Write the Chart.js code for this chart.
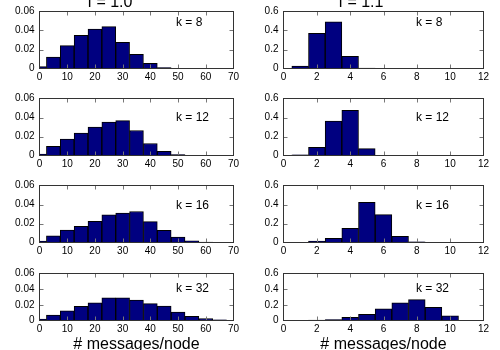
<!DOCTYPE html>
<html><head><meta charset="utf-8">
<script src="https://cdn.jsdelivr.net/npm/chart.js@4/dist/chart.umd.min.js"></script>
<style>
html,body{margin:0;padding:0;background:#fff;}
#wrap{position:relative;width:500px;height:350px;overflow:hidden;background:#fff;}
#wrap canvas{position:absolute;left:0;top:0;}
</style></head><body><div id="wrap"></div>
<script>
// ---- data ----
const binsF10 = [0,5,10,15,20,25,30,35,40,45,50,55,60,65,70];
const binsF11 = [1,2,3,4,5,6,7,8,9,10,11,12];

const f10_k8  = [0.002,0.012,0.024,0.035,0.0415,0.044,0.0275,0.0148,0.0055,0.001,0.0003,0.0002,0.0001,0.0001,0];
const f10_k12 = [0.0014,0.0097,0.0173,0.0237,0.030,0.0352,0.0367,0.0263,0.0126,0.0043,0.001,0.0003,0.0001,0.0001,0];
const f10_k16 = [0.0014,0.0071,0.0131,0.017,0.0223,0.029,0.0309,0.0326,0.022,0.0128,0.0057,0.0018,0.0004,0.0002,0.0001];
const f10_k32 = [0.0017,0.0069,0.0124,0.018,0.0227,0.0288,0.029,0.0262,0.0215,0.0185,0.0107,0.0052,0.0026,0.0008,0.0002];

const f11_k8  = [0.025,0.37,0.49,0.128,0.005,0,0,0,0,0,0,0];
const f11_k12 = [0.007,0.086,0.363,0.475,0.072,0.003,0.0005,0,0,0,0,0];
const f11_k16 = [0.002,0.014,0.043,0.149,0.422,0.294,0.064,0.007,0.001,0,0,0];
const f11_k32 = [0.001,0.004,0.013,0.04,0.08,0.15,0.227,0.266,0.167,0.06,0.003,0];

const xTicksF10 = [0,10,20,30,40,50,60,70];
const xTickLabelsF10 = ['0','10','20','30','40','50','60','70'];
const xTicksF11 = [0,2,4,6,8,10,12];
const xTickLabelsF11 = ['0','2','4','6','8','10','12'];
const yTicksF10 = [0,0.02,0.04,0.06];
const yTickLabelsF10 = ['0','0.02','0.04','0.06'];
const yTicksF11 = [0,0.2,0.4,0.6];
const yTickLabelsF11 = ['0','0.2','0.4','0.6'];

const kLabels = ['k = 8','k = 12','k = 16','k = 32'];
const colTitles = ['f = 1.0','f = 1.1'];
const xAxisTitle = '# messages/node';

// ---- layout (positions/styles) ----
const FONT = "'Liberation Sans', Arial, sans-serif";
const cols = [{L:39.5,R:233.5,kx:176,tx:110},{L:283.5,R:483.5,kx:416,tx:361}];
const rows = [{T:11.5,B:68.5,ky:22.5},{T:98.5,B:155.5,ky:118},{T:185.5,B:242.5,ky:205.5},{T:273.5,B:320.5,ky:289}];
const columns = [
  {bins:binsF10, series:[f10_k8,f10_k12,f10_k16,f10_k32], xmin:0, xmax:70, xt:xTicksF10, xl:xTickLabelsF10, ymax:0.06, yt:yTicksF10, yl:yTickLabelsF10},
  {bins:binsF11, series:[f11_k8,f11_k12,f11_k16,f11_k32], xmin:0, xmax:12, xt:xTicksF11, xl:xTickLabelsF11, ymax:0.6, yt:yTicksF11, yl:yTickLabelsF11}
];

const framePlugin = {
  id:'frame',
  afterDatasetsDraw(chart, args, opts){
    const {ctx, chartArea:a} = chart;
    const xs = chart.scales.x, ys = chart.scales.y;
    ctx.save();
    ctx.lineWidth = 1;
    ctx.strokeStyle = '#777';
    ctx.beginPath();
    xs.ticks.forEach(t=>{
      const px = Math.round(xs.getPixelForValue(t.value)) + 0.5;
      if (px <= a.left + 1 || px >= a.right - 1) return;
      ctx.moveTo(px, a.bottom); ctx.lineTo(px, a.bottom - 4);
      ctx.moveTo(px, a.top); ctx.lineTo(px, a.top + 4);
    });
    ys.ticks.forEach(t=>{
      const py = Math.round(ys.getPixelForValue(t.value)) + 0.5;
      if (py <= a.top + 1 || py >= a.bottom - 1) return;
      ctx.moveTo(a.left, py); ctx.lineTo(a.left + 4, py);
      ctx.moveTo(a.right, py); ctx.lineTo(a.right - 4, py);
    });
    ctx.stroke();
    ctx.strokeStyle = '#333';
    ctx.strokeRect(a.left, a.top, a.right - a.left, a.bottom - a.top);
    // texts
    ctx.fillStyle = '#000';
    ctx.textBaseline = 'middle';
    ctx.textAlign = 'left';
    ctx.font = '12px ' + FONT;
    ctx.fillText(opts.k, opts.kx, opts.ky);
    if (opts.title) {
      ctx.textAlign = 'center';
      ctx.textBaseline = 'alphabetic';
      ctx.font = '16px ' + FONT;
      ctx.fillText(opts.title, opts.tx, 7);
    }
    if (opts.xtitle) {
      ctx.textAlign = 'center';
      ctx.textBaseline = 'alphabetic';
      ctx.font = '16px ' + FONT;
      ctx.fillText(opts.xtitle, (a.left + a.right)/2, 349);
    }
    ctx.restore();
  }
};

const wrap = document.getElementById('wrap');
const YW = 30, XH = 20;
columns.forEach((col, ci)=>{
  rows.forEach((r, ri)=>{
    const c = cols[ci];
    const cv = document.createElement('canvas');
    cv.width = 500; cv.height = 350;
    cv.style.width = '500px'; cv.style.height = '350px';
    wrap.appendChild(cv);
    const vals = col.series[ri];
    new Chart(cv, {
      type:'bar',
      data:{datasets:[{
        data: col.bins.map((x,i)=>({x:x, y:vals[i]})),
        backgroundColor:'#000080', borderColor:'#000000', borderWidth:1,
        barPercentage:1, categoryPercentage:1, grouped:false, clip:0
      }]},
      options:{
        responsive:false, animation:false, devicePixelRatio:1,
        layout:{padding:{left:c.L - YW, right:500 - c.R, top:r.T, bottom:350 - r.B - XH}},
        plugins:{
          legend:{display:false}, tooltip:{enabled:false}, title:{display:false},
          frame:{k:kLabels[ri], kx:c.kx, ky:r.ky, title: ri===0 ? colTitles[ci] : null, tx:c.tx, xtitle: ri===3 ? xAxisTitle : null}
        },
        scales:{
          x:{type:'linear', min:col.xmin, max:col.xmax, offset:false,
             afterFit:s=>{s.height = XH;},
             afterBuildTicks:s=>{s.ticks = col.xt.map(v=>({value:v}));},
             grid:{display:false, drawTicks:false}, border:{display:false},
             ticks:{autoSkip:false, maxRotation:0, padding:3, color:'#000', font:{family:FONT, size:10},
                    callback:(v,i)=>col.xl[i]}},
          y:{type:'linear', min:0, max:col.ymax,
             afterFit:s=>{s.width = YW;},
             afterBuildTicks:s=>{s.ticks = col.yt.map(v=>({value:v}));},
             grid:{display:false, drawTicks:false}, border:{display:false},
             ticks:{autoSkip:false, padding:5, color:'#000', font:{family:FONT, size:10},
                    callback:(v,i)=>col.yl[i]}}
        }
      },
      plugins:[framePlugin]
    });
  });
});
</script></body></html>
